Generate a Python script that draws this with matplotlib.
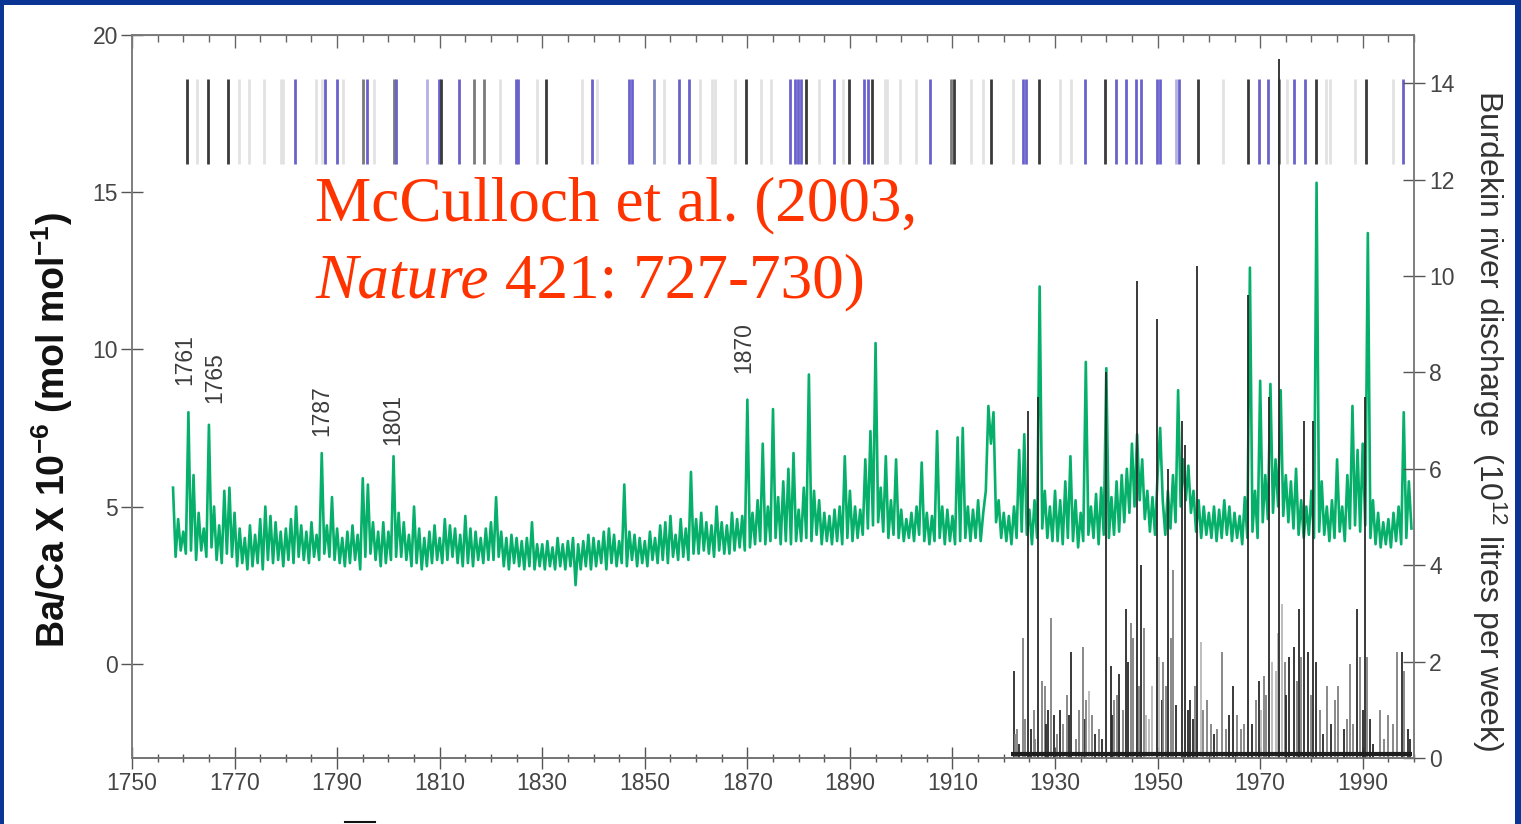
import numpy as np
import matplotlib
matplotlib.use("Agg")
import matplotlib.pyplot as plt
from matplotlib.patches import Rectangle
from matplotlib.lines import Line2D
from matplotlib.ticker import MultipleLocator

plt.rcParams['font.family'] = ['Liberation Sans', 'DejaVu Sans']
plt.rcParams['mathtext.default'] = 'regular'

# coral Ba/Ca record, two readings per year starting 1758.0
baca_start = 1758.0
baca = [
    5.6, 3.4, 4.6, 3.6,                                                                  # 1758-59
    4.2, 3.5, 8.0, 3.6, 6.0, 3.3, 4.8, 3.6, 4.3, 3.4, 7.6, 3.7, 5.0, 3.3, 4.4, 3.2, 5.5, 3.5, 5.6, 3.4,  # 1760s
    4.8, 3.1, 4.3, 3.2, 4.0, 3.0, 4.4, 3.1, 4.1, 3.2, 4.6, 3.0, 5.0, 3.3, 4.7, 3.2, 4.5, 3.3, 4.2, 3.1,  # 1770s
    4.3, 3.3, 4.6, 3.2, 5.0, 3.4, 4.4, 3.3, 4.2, 3.2, 4.5, 3.4, 4.1, 3.3, 6.7, 3.5, 4.4, 3.4, 5.3, 3.3,  # 1780s
    4.3, 3.2, 4.0, 3.1, 4.2, 3.2, 4.4, 3.3, 4.1, 3.0, 5.9, 3.4, 5.7, 3.5, 4.5, 3.3, 4.2, 3.1, 4.5, 3.2,  # 1790s
    4.2, 3.3, 6.6, 3.4, 4.8, 3.4, 4.5, 3.3, 4.1, 3.1, 5.0, 3.2, 4.3, 3.0, 4.0, 3.1, 4.2, 3.2, 4.4, 3.3,  # 1800s
    4.0, 3.2, 4.6, 3.3, 4.4, 3.4, 4.3, 3.2, 4.1, 3.1, 4.7, 3.2, 4.3, 3.1, 4.2, 3.3, 4.0, 3.2, 4.3, 3.3,  # 1810s
    4.5, 3.3, 5.3, 3.4, 4.2, 3.1, 4.0, 3.0, 4.1, 3.2, 4.0, 3.1, 3.9, 3.0, 4.0, 3.1, 4.5, 3.0, 3.8, 3.1,  # 1820s
    3.8, 3.0, 3.9, 3.1, 3.7, 3.0, 4.0, 3.1, 3.8, 3.0, 3.9, 3.1, 4.0, 2.5, 3.8, 3.0, 3.9, 3.1, 4.1, 3.0,  # 1830s
    4.0, 3.1, 3.9, 3.2, 4.2, 3.0, 4.3, 3.2, 4.1, 3.1, 3.9, 3.2, 5.7, 3.1, 4.2, 3.3, 4.1, 3.1, 4.0, 3.2,  # 1840s
    3.9, 3.1, 4.2, 3.3, 4.0, 3.2, 4.4, 3.3, 4.5, 3.2, 4.7, 3.4, 4.1, 3.3, 4.6, 3.4, 4.3, 3.3, 6.1, 3.5,  # 1850s
    4.6, 3.5, 4.8, 3.6, 4.5, 3.5, 4.4, 3.4, 5.0, 3.6, 4.5, 3.5, 4.4, 3.5, 4.8, 3.6, 4.6, 3.7, 4.7, 3.6,  # 1860s
    8.4, 3.7, 4.8, 3.8, 5.2, 3.9, 7.0, 3.8, 5.0, 3.9, 8.1, 4.0, 5.3, 3.8, 5.8, 3.9, 6.2, 3.8, 6.7, 3.9,  # 1870s
    4.9, 3.9, 5.6, 4.0, 9.2, 3.9, 5.5, 4.1, 5.2, 3.8, 4.8, 3.9, 4.7, 3.8, 4.9, 3.9, 5.0, 3.8, 6.6, 4.0,  # 1880s
    5.5, 3.9, 5.0, 4.0, 4.9, 4.1, 6.5, 4.3, 7.4, 4.4, 10.2, 4.5, 5.6, 4.2, 6.6, 4.0, 5.2, 4.1, 6.5, 4.0,  # 1890s
    4.9, 3.9, 4.6, 4.0, 4.8, 3.9, 5.0, 4.1, 6.4, 3.9, 4.8, 3.8, 4.7, 3.9, 7.4, 4.0, 5.0, 3.8, 4.9, 3.9,  # 1900s
    4.7, 3.8, 7.2, 3.9, 7.5, 4.0, 5.0, 3.9, 4.9, 4.0, 5.2, 3.9, 4.8, 5.5, 8.2, 7.0, 8.0, 4.5, 5.2, 4.0,  # 1910s
    4.8, 3.9, 4.7, 3.8, 5.0, 4.0, 6.8, 4.2, 7.3, 4.1, 4.9, 3.8, 5.2, 4.0, 12.0, 4.3, 5.5, 4.0, 5.0, 3.9,  # 1920s
    5.5, 3.9, 5.2, 3.8, 5.8, 4.0, 6.6, 3.9, 5.2, 3.7, 4.8, 3.9, 9.6, 4.1, 5.0, 4.0, 5.4, 3.8, 5.6, 4.1,  # 1930s
    9.4, 4.0, 5.3, 4.1, 5.8, 4.2, 6.0, 4.5, 6.2, 4.8, 7.0, 5.0, 7.3, 5.2, 6.5, 4.6, 5.5, 4.2, 5.3, 4.1,  # 1940s
    6.0, 7.5, 5.2, 4.1, 5.5, 4.3, 6.0, 4.5, 8.7, 5.0, 6.5, 5.2, 6.3, 4.8, 5.5, 4.2, 5.2, 4.0, 5.0, 4.1,  # 1950s
    4.8, 4.0, 5.0, 3.9, 4.9, 4.0, 5.2, 4.1, 5.0, 3.9, 4.8, 4.0, 4.7, 3.8, 5.3, 4.0, 12.6, 4.2, 5.5, 4.0,  # 1960s
    9.0, 4.5, 6.0, 4.6, 8.9, 4.8, 6.5, 5.0, 8.7, 4.7, 6.0, 4.5, 5.8, 4.3, 6.2, 4.1, 5.2, 4.0, 5.0, 4.1,  # 1970s
    5.5, 4.0, 15.3, 4.2, 5.8, 4.1, 5.0, 3.9, 5.2, 4.0, 6.5, 4.2, 5.0, 3.9, 6.0, 4.3, 8.2, 4.4, 6.8, 4.2,  # 1980s
    7.0, 4.4, 13.7, 4.0, 5.2, 3.8, 4.8, 3.7, 4.5, 3.8, 4.6, 3.7, 4.8, 3.9, 5.0, 3.8, 8.0, 4.0, 5.8, 4.3,  # 1990s
]

# Burdekin river discharge peaks (10^12 litres per week), shade k/g/l
flow = [
    (1921.9, 1.8, 'k'), (1922.2, 0.5, 'g'), (1922.5, 0.6, 'g'), (1923.0, 0.3, 'k'), (1923.8, 2.5, 'g'),
    (1924.2, 0.8, 'g'), (1924.7, 7.2, 'k'), (1925.3, 0.6, 'k'), (1925.8, 1.0, 'g'), (1926.0, 0.4, 'g'),
    (1926.7, 7.5, 'k'), (1927.5, 1.6, 'g'), (1928.0, 1.5, 'g'), (1928.3, 0.7, 'k'), (1928.6, 1.0, 'k'),
    (1929.2, 2.9, 'g'), (1929.8, 0.9, 'k'), (1930.4, 0.5, 'g'), (1931.0, 1.0, 'k'), (1931.6, 0.7, 'g'),
    (1932.3, 1.3, 'g'), (1932.8, 0.9, 'k'), (1933.2, 2.2, 'k'), (1934.0, 0.4, 'g'), (1934.6, 1.0, 'g'),
    (1935.4, 2.3, 'g'), (1935.9, 0.8, 'k'), (1936.0, 1.2, 'g'), (1936.6, 1.4, 'l'), (1937.2, 0.9, 'g'),
    (1937.8, 0.5, 'k'), (1938.5, 0.6, 'g'), (1939.2, 0.4, 'k'), (1940.0, 8.0, 'k'), (1940.9, 1.9, 'k'),
    (1941.2, 0.9, 'k'), (1941.5, 1.2, 'g'), (1942.0, 1.3, 'g'), (1942.5, 1.75, 'k'), (1943.3, 1.0, 'g'),
    (1943.8, 3.1, 'k'), (1944.2, 2.0, 'k'), (1944.8, 2.8, 'g'), (1945.3, 2.5, 'g'), (1945.9, 9.9, 'k'),
    (1946.3, 1.5, 'g'), (1946.8, 4.0, 'k'), (1947.3, 2.7, 'g'), (1947.8, 0.9, 'l'), (1948.3, 0.8, 'l'),
    (1949.0, 1.5, 'l'), (1949.8, 9.1, 'k'), (1950.3, 2.1, 'l'), (1950.8, 1.2, 'k'), (1951.1, 2.0, 'g'),
    (1951.6, 1.5, 'g'), (1952.1, 6.0, 'k'), (1952.6, 2.5, 'g'), (1953.0, 3.9, 'g'), (1953.6, 1.1, 'k'),
    (1954.7, 7.0, 'k'), (1955.4, 6.5, 'k'), (1955.9, 1.0, 'k'), (1956.4, 1.2, 'k'), (1956.9, 0.8, 'k'),
    (1957.2, 1.5, 'g'), (1957.7, 10.2, 'k'), (1958.4, 2.4, 'l'), (1958.9, 1.0, 'g'), (1959.7, 1.2, 'g'),
    (1960.4, 0.7, 'g'), (1961.0, 0.5, 'k'), (1961.5, 0.6, 'g'), (1962.6, 2.2, 'g'), (1963.3, 0.6, 'g'),
    (1963.9, 0.9, 'k'), (1964.8, 1.5, 'k'), (1965.5, 0.9, 'g'), (1966.2, 0.6, 'g'), (1966.8, 0.7, 'g'),
    (1967.7, 9.6, 'k'), (1968.5, 0.7, 'k'), (1969.2, 1.2, 'g'), (1969.7, 1.6, 'k'), (1970.2, 1.0, 'l'),
    (1970.8, 1.7, 'g'), (1971.2, 1.3, 'g'), (1971.8, 7.5, 'k'), (1972.4, 2.0, 'l'), (1973.1, 1.8, 'l'),
    (1973.4, 2.6, 'l'), (1973.7, 14.5, 'k'), (1974.3, 3.2, 'l'), (1974.8, 2.0, 'g'), (1975.1, 1.3, 'k'),
    (1975.6, 2.1, 'k'), (1976.6, 2.3, 'k'), (1977.1, 1.6, 'g'), (1977.6, 3.1, 'k'), (1978.0, 2.1, 'g'),
    (1978.5, 7.0, 'k'), (1979.4, 2.2, 'k'), (1979.9, 1.3, 'g'), (1980.4, 7.0, 'k'), (1980.9, 2.0, 'k'),
    (1981.6, 1.0, 'g'), (1982.2, 0.5, 'k'), (1983.0, 1.5, 'g'), (1983.8, 0.7, 'k'), (1984.5, 1.2, 'g'),
    (1985.2, 1.5, 'g'), (1986.3, 0.6, 'k'), (1987.0, 0.8, 'g'), (1987.5, 1.95, 'g'), (1988.2, 0.7, 'g'),
    (1988.8, 3.1, 'k'), (1989.5, 2.1, 'g'), (1990.0, 1.0, 'k'), (1990.4, 7.5, 'k'), (1990.9, 2.1, 'g'),
    (1991.4, 0.8, 'k'), (1992.0, 0.3, 'k'), (1993.4, 1.0, 'g'), (1994.2, 0.4, 'g'), (1995.0, 0.9, 'g'),
    (1996.0, 0.7, 'g'), (1996.6, 2.2, 'g'), (1997.6, 2.2, 'k'), (1998.0, 1.8, 'g'), (1998.8, 0.6, 'k'),
    (1999.3, 0.4, 'k'),
]
gauge_span = (1921.5, 1999.7)
base_flow = 0.08

# flood event bars along the top (year, shade)
event_years = [1760.8, 1762.7, 1764.9, 1768.8, 1770.9, 1772.8, 1775.8, 1779.0, 1779.4, 1781.8,
               1785.8, 1787.0, 1787.6, 1789.9, 1791.1, 1795.0, 1795.9, 1797.1, 1801.0, 1801.5,
               1807.5, 1809.8, 1810.3, 1813.8, 1816.7, 1818.7, 1821.8, 1824.9, 1825.3, 1829.0,
               1830.7, 1837.8, 1839.8, 1840.6, 1846.9, 1847.5, 1851.7, 1853.7, 1856.7, 1858.7,
               1860.8, 1863.2, 1863.6, 1867.6, 1869.7, 1872.7, 1874.7, 1878.4, 1879.2, 1879.8,
               1880.5, 1881.5, 1884.0, 1886.8, 1888.6, 1889.8, 1892.7, 1893.6, 1894.4, 1896.8,
               1897.2, 1899.8, 1902.8, 1905.7, 1909.8, 1910.3, 1913.7, 1916.0, 1917.6, 1921.8,
               1923.8, 1924.4, 1926.9, 1931.0, 1933.2, 1935.8, 1939.7, 1941.9, 1943.8, 1945.8,
               1946.7, 1949.8, 1950.4, 1953.6, 1954.2, 1957.8, 1962.8, 1967.7, 1969.8, 1971.6,
               1973.7, 1975.2, 1976.6, 1978.7, 1980.8, 1982.8, 1983.6, 1988.5, 1990.6, 1996.0,
               1997.8]
event_shade = ['k', 'l', 'k', 'k', 'l', 'l', 'l', 'l', 'l', 'b',
               'l', 'l', 'b', 'b', 'l', 'g', 'b', 'l', 'g', 'b',
               'p', 'b', 'k', 'b', 'g', 'g', 'l', 'b', 'b', 'l',
               'k', 'l', 'b', 'l', 'b', 'b', 's', 'l', 'b', 'b',
               'l', 'l', 'l', 'l', 'k', 'l', 'l', 'b', 'b', 'b',
               'b', 'k', 'l', 'b', 'l', 'k', 'b', 'b', 'k', 'l',
               'l', 'l', 'l', 'b', 'g', 'k', 'l', 'l', 'k', 'l',
               'b', 'b', 'k', 'l', 'l', 'b', 'k', 'b', 'b', 'b',
               'b', 'b', 'b', 'p', 'b', 'k', 'l', 'k', 'b', 'b',
               'g', 'l', 'b', 'b', 'k', 'l', 'l', 'l', 'k', 'l',
               'b']
event_band = (15.9, 18.6)

peak_labels = ['1761', '1765', '1787', '1801', '1870']
peak_label_x = [1760.3, 1766.2, 1787.0, 1800.9, 1869.3]
peak_label_y = [8.85, 8.3, 7.25, 6.95, 9.25]

shades = {'k': '#3a3a3a', 'g': '#7a7a7a', 'l': '#e2e2e2', 'b': '#6a62cc',
          'p': '#b4b0e4', 's': '#7f88bb'}
flow_colors = {'k': '#2a2a2a', 'g': '#808080', 'l': '#b8b8b8'}

fig = plt.figure(figsize=(15.21, 8.24), dpi=100)
ax = fig.add_axes([132 / 1521, 66 / 824, 1282 / 1521, 723 / 824])
ax2 = ax.twinx()

years = baca_start + 0.5 * np.arange(len(baca))
ax.plot(years, baca, color='#06b06a', lw=1.9, zorder=3)

ax.vlines(event_years, event_band[0], event_band[1], colors=[shades[s] for s in event_shade],
          lw=2.0, zorder=2)

flow_x = [f[0] for f in flow]
flow_y = [f[1] for f in flow]
flow_c = [flow_colors[f[2]] for f in flow]
ax2.vlines(flow_x, 0, flow_y, colors=flow_c, lw=1.3)
ax2.plot(gauge_span, [base_flow, base_flow], color='#1e1e1e', lw=3.0, solid_capstyle='butt')

for lab, xx, yy in zip(peak_labels, peak_label_x, peak_label_y):
    ax.text(xx, yy, lab, rotation=90, ha='center', va='bottom', fontsize=16.5, color='#3c3c3c')

ax.set_xlim(1750, 2000)
ax.set_ylim(-3, 20)
ax2.set_ylim(0, 15)

spine_c = '#7a7a7a'
for a in (ax, ax2):
    for sp in a.spines.values():
        sp.set_color(spine_c)
        sp.set_linewidth(1.1)
ax.spines['bottom'].set_color('#444444')

ax.set_xticks(np.arange(1750, 2000, 20))
ax.xaxis.set_minor_locator(MultipleLocator(5))
ax.set_yticks([0, 5, 10, 15, 20])
ax2.set_yticks([0, 2, 4, 6, 8, 10, 12, 14])

ax.tick_params(axis='x', which='major', direction='inout', length=16, width=1.0, color='#555555',
               labelsize=16.5, labelcolor='#454545', pad=2)
ax.tick_params(axis='x', which='minor', direction='inout', length=6, width=1.0, color='#555555')
ax.tick_params(axis='y', direction='inout', length=16, width=1.0, color='#555555',
               labelsize=16.5, labelcolor='#454545', pad=2)
ax2.tick_params(axis='y', direction='inout', length=16, width=1.0, color='#555555',
                labelsize=16.5, labelcolor='#454545', pad=3)

top = ax.secondary_xaxis('top')
top.set_xticks(np.arange(1750, 2000, 20))
top.xaxis.set_minor_locator(MultipleLocator(5))
top.tick_params(axis='x', which='major', direction='in', length=9, width=1.0, color='#666666',
                labeltop=False)
top.tick_params(axis='x', which='minor', direction='in', length=5, width=1.0, color='#666666')
top.spines['top'].set_color(spine_c)

ax.set_ylabel('Ba/Ca X 10$^{-6}$ (mol mol$^{-1}$)', fontsize=27, fontweight='bold',
              color='#111111', va='center')
ax.yaxis.set_label_coords(-0.062, 0.454)
ax2.set_ylabel('Burdekin river discharge  (10$^{12}$ litres per week)', fontsize=23,
               color='#333333', rotation=-90, va='center')
ax2.yaxis.set_label_coords(1.059, 0.467)

cite1 = ax.text(1785.7, 14.1, 'McCulloch et al. (2003,', fontsize=45.5, color='#ff3300',
                family='Liberation Serif', va='baseline')
cite2 = ax.text(1785.7, 11.65, 'Nature', fontsize=45.5, color='#ff3300',
                family='Liberation Serif', style='italic', va='baseline')
ax.annotate(' 421: 727-730)', xy=(1, 0), xycoords=cite2, va='bottom', ha='left',
            fontsize=45.5, color='#ff3300', family='Liberation Serif')

# slide frame
frame_c = '#0b3594'
fig.add_artist(Rectangle((0, 1 - 5 / 824), 1, 5 / 824, transform=fig.transFigure,
                         color=frame_c, lw=0))
fig.add_artist(Rectangle((0, 0), 4 / 1521, 1, transform=fig.transFigure, color=frame_c, lw=0))
fig.add_artist(Rectangle((1 - 6 / 1521, 0), 6 / 1521, 1, transform=fig.transFigure,
                         color=frame_c, lw=0))
fig.add_artist(Line2D([345 / 1521, 375 / 1521], [2 / 824, 2 / 824], transform=fig.transFigure,
                      color='#111111', lw=1.5))

fig.savefig('out.png', dpi=100, facecolor='white')
